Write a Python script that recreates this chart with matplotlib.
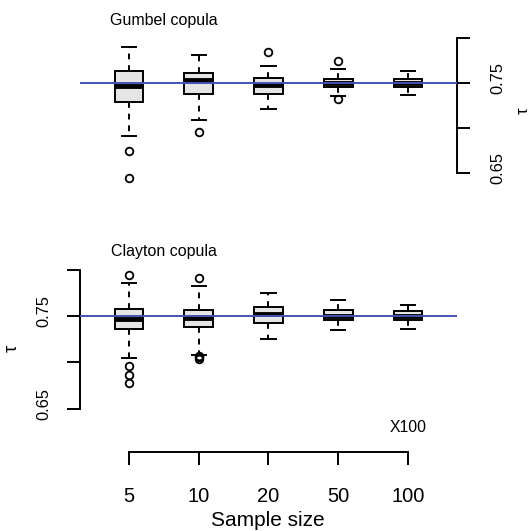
import matplotlib
matplotlib.use("Agg")
import matplotlib.pyplot as plt
from matplotlib.transforms import ScaledTranslation

plt.rcParams['font.family'] = ['Liberation Sans', 'DejaVu Sans']

sizes = ['5', '10', '20', '50', '100']
true_tau = 0.75

# Gumbel copula estimates
gum_whislo = [0.691, 0.709, 0.721, 0.736, 0.737]
gum_q1 = [0.729, 0.738, 0.738, 0.745, 0.746]
gum_med = [0.747, 0.753, 0.748, 0.750, 0.750]
gum_q3 = [0.763, 0.761, 0.756, 0.754, 0.754]
gum_whishi = [0.790, 0.781, 0.769, 0.765, 0.763]
gum_fliers = [[0.674, 0.644], [0.696], [0.784], [0.774, 0.732], []]

# Clayton copula estimates
cla_whislo = [0.705, 0.708, 0.725, 0.735, 0.736]
cla_q1 = [0.736, 0.738, 0.742, 0.746, 0.746]
cla_med = [0.747, 0.748, 0.752, 0.750, 0.750]
cla_q3 = [0.758, 0.757, 0.760, 0.756, 0.755]
cla_whishi = [0.786, 0.782, 0.775, 0.767, 0.762]
cla_fliers = [[0.794, 0.696, 0.686, 0.678], [0.791, 0.707, 0.704, 0.706], [], [], []]


def make_stats(lo, q1, med, q3, hi, fl):
    return [dict(whislo=lo[i], q1=q1[i], med=med[i], q3=q3[i], whishi=hi[i], fliers=fl[i])
            for i in range(len(med))]


def draw_boxes(ax, stats):
    ax.bxp(stats, positions=range(1, 6), widths=0.41, patch_artist=True,
           boxprops=dict(facecolor='#e5e5e5', edgecolor='black', linewidth=1.4),
           medianprops=dict(color='black', linewidth=3.5),
           whiskerprops=dict(color='black', linewidth=1.4, linestyle=(0, (3, 3))),
           capprops=dict(color='black', linewidth=1.4),
           flierprops=dict(marker='o', markerfacecolor='none', markeredgecolor='black',
                           markersize=5.5, markeredgewidth=1.3))
    ax.axhline(true_tau, color='#4254b0', linewidth=1.4, zorder=5)
    ax.set_xlim(0.3, 5.7)
    for s in ax.spines.values():
        s.set_visible(False)
    ax.tick_params(width=1.4, length=9.4)


fig = plt.figure(figsize=(5.3, 5.31), dpi=100)
shift_up = ScaledTranslation(0, 5 / 100, fig.dpi_scale_trans)

ax1 = fig.add_axes([0.1509, 0.6422, 0.7113, 0.3013])
draw_boxes(ax1, make_stats(gum_whislo, gum_q1, gum_med, gum_q3, gum_whishi, gum_fliers))
ax1.set_ylim(0.63111, 0.80889)
ax1.set_xticks([])
ax1.yaxis.tick_right()
ax1.spines['right'].set_visible(True)
ax1.spines['right'].set_linewidth(1.4)
ax1.spines['right'].set_bounds(0.65, 0.80)
ax1.set_yticks([0.65, 0.70, 0.75, 0.80])
ax1.set_yticklabels(['0.65', '', '0.75', ''], rotation=90, va='center', fontsize=11.8)
ax1.tick_params(axis='y', pad=14.5)

ax2 = fig.add_axes([0.1509, 0.2090, 0.7113, 0.3013])
draw_boxes(ax2, make_stats(cla_whislo, cla_q1, cla_med, cla_q3, cla_whishi, cla_fliers))
ax2.set_ylim(0.63769, 0.81048)
ax2.spines['left'].set_visible(True)
ax2.spines['left'].set_linewidth(1.4)
ax2.spines['left'].set_bounds(0.65, 0.80)
ax2.set_yticks([0.65, 0.70, 0.75, 0.80])
ax2.set_yticklabels(['0.65', '', '0.75', ''], rotation=90, va='center', fontsize=11.8)
ax2.tick_params(axis='y', pad=11.5)
ax2.spines['bottom'].set_visible(True)
ax2.spines['bottom'].set_linewidth(1.4)
ax2.spines['bottom'].set_position(('outward', 23))
ax2.spines['bottom'].set_bounds(1, 5)
ax2.set_xticks(range(1, 6))
ax2.set_xticklabels(sizes, fontsize=14.5)
ax2.tick_params(axis='x', pad=15.5)

for ax in (ax1, ax2):
    for t in ax.yaxis.get_major_ticks():
        for lab in (t.label1, t.label2):
            lab.set_transform(lab.get_transform() + shift_up)

fig.text(110 / 530, 1 - 25 / 531, 'Gumbel copula', fontsize=11.5, ha='left', va='baseline')
fig.text(111 / 530, 1 - 256 / 531, 'Clayton copula', fontsize=11.5, ha='left', va='baseline')
fig.text(408 / 530, 1 - 427 / 531, 'X100', fontsize=11.3, ha='center', va='center')
fig.text(268 / 530, 1 - 526.5 / 531, 'Sample size', fontsize=15, ha='center', va='baseline')
fig.text(523 / 530, 1 - 111 / 531, 'τ', fontsize=12, rotation=90, ha='center', va='center')
fig.text(12 / 530, 1 - 348 / 531, 'τ', fontsize=13, rotation=90, ha='center', va='center')

fig.savefig('out.png', dpi=100)
